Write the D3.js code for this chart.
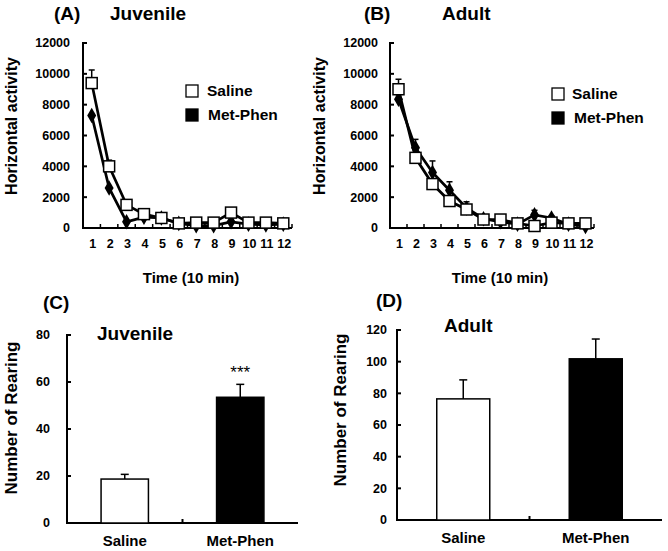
<!DOCTYPE html>
<html><head><meta charset="utf-8">
<script src="https://cdn.jsdelivr.net/npm/d3@7"></script>
<style>
html,body{margin:0;padding:0;background:#fff;}
text{font-family:Arial,"Liberation Sans",sans-serif;}
</style></head>
<body>
<svg id="c" width="668" height="551"></svg>
<script>
// ---------- data ----------
const timeBins = [1,2,3,4,5,6,7,8,9,10,11,12];
const yTicksLine = [0,2000,4000,6000,8000,10000,12000];
const seriesNames = ["Saline","Met-Phen"];

const juvSaline    = [9400,4000,1500,900,650,300,350,350,1000,350,350,300];
const juvSalineErr = [850,400,150,150,100,50,50,50,200,50,50,50];
const juvMet       = [7300,2600,400,700,650,300,150,150,400,250,200,250];
const juvMetErr    = [0,0,0,0,0,0,0,0,0,0,0,0];

const adSaline     = [9000,4550,2850,1750,1200,550,550,300,130,350,300,300];
const adSalineErr  = [650,300,300,200,200,100,100,50,50,100,50,50];
const adMet        = [8350,5200,3600,2450,1300,600,400,250,850,650,250,100];
const adMetErr     = [300,550,750,550,400,250,150,100,300,150,100,100];

const groups = ["Saline","Met-Phen"];
const juvRearing    = [18.7,53.5];
const juvRearingErr = [2.0,5.5];
const juvTicks      = [0,20,40,60,80];
const adRearing     = [76.5,101.8];
const adRearingErr  = [12.0,12.5];
const adTicks       = [0,20,40,60,80,100,120];

const svg = d3.select("#c");

function yAxisInside(g, y, ticks, x0, labelGap){
  g.append("line").attr("x1",x0).attr("x2",x0).attr("y1",y.range()[0]+1).attr("y2",y.range()[1]-1)
    .attr("stroke","#000").attr("stroke-width",2);
  ticks.forEach(t=>{
    g.append("line").attr("x1",x0).attr("x2",x0+4).attr("y1",y(t)).attr("y2",y(t))
      .attr("stroke","#000").attr("stroke-width",2);
    g.append("text").attr("x",x0-labelGap).attr("y",y(t)).attr("dy","0.35em")
      .attr("text-anchor","end").attr("font-size",12.5).attr("font-weight","bold").text(t);
  });
}

function linePanel(o){
  const g = svg.append("g");
  const x = d3.scaleBand().domain(timeBins).range([o.x0,o.x1]).padding(0);
  const y = d3.scaleLinear().domain([0,12000]).range([228,43]);
  const cx = d => x(d)+x.bandwidth()/2;
  yAxisInside(g,y,yTicksLine,o.x0,o.labelGap);
  g.append("line").attr("x1",o.x0-1).attr("x2",o.x1).attr("y1",y(0)).attr("y2",y(0))
    .attr("stroke","#000").attr("stroke-width",2);
  timeBins.forEach((d,i)=>{
    const bx = x(d)+x.bandwidth();
    g.append("line").attr("x1",bx).attr("x2",bx).attr("y1",y(0)).attr("y2",y(0)-4)
      .attr("stroke","#000").attr("stroke-width",1.5);
    g.append("text").attr("x",cx(d)+1).attr("y",248).attr("text-anchor","middle")
      .attr("font-size",12.5).attr("font-weight","bold").text(d);
  });
  const line = d3.line().x((v,i)=>cx(timeBins[i])).y(v=>y(v));
  const drawSeries = (vals, errs, filled) => {
    vals.forEach((v,i)=>{
      if(errs[i]>0){
        const xx=cx(timeBins[i]);
        g.append("line").attr("x1",xx).attr("x2",xx).attr("y1",y(v)).attr("y2",y(v+errs[i]))
          .attr("stroke","#000").attr("stroke-width",1.5);
        g.append("line").attr("x1",xx-3).attr("x2",xx+3).attr("y1",y(v+errs[i])).attr("y2",y(v+errs[i]))
          .attr("stroke","#000").attr("stroke-width",1.5);
      }
    });
    g.append("path").attr("d",line(vals)).attr("fill","none").attr("stroke","#000").attr("stroke-width",2.7);
    vals.forEach((v,i)=>{
      const xx=cx(timeBins[i]), yy=y(v);
      if(filled){
        g.append("path").attr("d",d3.symbol().type(d3.symbolDiamond).size(70)())
          .attr("transform",`translate(${xx},${yy})`).attr("fill","#000");
      } else {
        g.append("rect").attr("x",xx-5.5).attr("y",yy-5.5).attr("width",11).attr("height",11)
          .attr("fill","#fff").attr("stroke","#000").attr("stroke-width",1.5);
      }
    });
  };
  drawSeries(o.met,o.metErr,true);
  drawSeries(o.sal,o.salErr,false);
  g.append("text").attr("x",o.tagX).attr("y",20).attr("font-size",19).attr("font-weight","bold").text(o.tag);
  g.append("text").attr("x",o.titleX).attr("y",20).attr("font-size",19).attr("font-weight","bold").text(o.title);
  g.append("text").attr("transform",`translate(${o.ylabX},126) rotate(-90)`).attr("text-anchor","middle")
    .attr("font-size",16).attr("font-weight","bold").text("Horizontal activity");
  g.append("text").attr("x",o.timeX).attr("y",283).attr("text-anchor","middle")
    .attr("font-size",15).attr("font-weight","bold").text("Time (10 min)");
  seriesNames.forEach((n,i)=>{
    const ly = o.legY[i];
    g.append("rect").attr("x",o.legX).attr("y",ly).attr("width",12).attr("height",12)
      .attr("fill", i===0?"#fff":"#000").attr("stroke","#000").attr("stroke-width",1.3);
    g.append("text").attr("x",o.legTX[i]).attr("y",ly+11).attr("font-size",15.5).attr("font-weight","bold").text(n);
  });
}

linePanel({x0:83,x1:292,labelGap:13,met:juvMet,metErr:juvMetErr,sal:juvSaline,salErr:juvSalineErr,
  tag:"(A)",tagX:54,title:"Juvenile",titleX:110,ylabX:17,timeX:191,legX:186,legY:[85,109],legTX:[207,208]});
linePanel({x0:390,x1:594,labelGap:12,met:adMet,metErr:adMetErr,sal:adSaline,salErr:adSalineErr,
  tag:"(B)",tagX:364,title:"Adult",titleX:442,ylabX:325,timeX:500,legX:552,legY:[88,112],legTX:[572,574]});

function barPanel(o){
  const g = svg.append("g");
  const x = d3.scaleBand().domain(groups).range([o.x0,o.x1]).padding(0);
  const y = d3.scaleLinear().domain([0,o.max]).range([o.yb,o.yt]);
  yAxisInside(g,y,o.ticks,o.x0,o.labelGap);
  g.append("line").attr("x1",o.x0-1).attr("x2",o.x1).attr("y1",y(0)).attr("y2",y(0))
    .attr("stroke","#000").attr("stroke-width",2);
  const mid = x(groups[1]);
  g.append("line").attr("x1",mid).attr("x2",mid).attr("y1",y(0)).attr("y2",y(0)-4)
    .attr("stroke","#000").attr("stroke-width",2);
  const bw = x.bandwidth()*o.frac;
  o.vals.forEach((v,i)=>{
    const c = x(groups[i])+x.bandwidth()/2;
    g.append("line").attr("x1",c).attr("x2",c).attr("y1",y(v)).attr("y2",y(v+o.errs[i]))
      .attr("stroke","#000").attr("stroke-width",1.5);
    g.append("line").attr("x1",c-4).attr("x2",c+4).attr("y1",y(v+o.errs[i])).attr("y2",y(v+o.errs[i]))
      .attr("stroke","#000").attr("stroke-width",1.5);
    g.append("rect").attr("x",c-bw/2).attr("y",y(v)).attr("width",bw).attr("height",y(0)-y(v))
      .attr("fill",i===0?"#fff":"#000").attr("stroke","#000").attr("stroke-width",1.5);
    g.append("text").attr("x",c).attr("y",o.catY).attr("text-anchor","middle")
      .attr("font-size",15).attr("font-weight","bold").text(groups[i]);
  });
  if(o.star){
    const c = x(groups[1])+x.bandwidth()/2;
    g.append("text").attr("x",c).attr("y",o.starY).attr("text-anchor","middle").attr("font-size",17).attr("fill","#000").text("***");
  }
  g.append("text").attr("x",o.tagX).attr("y",o.tagY).attr("font-size",19).attr("font-weight","bold").text(o.tag);
  g.append("text").attr("x",o.titleX).attr("y",o.titleY).attr("font-size",19).attr("font-weight","bold").text(o.title);
  g.append("text").attr("transform",`translate(${o.ylabX},${o.ylabY}) rotate(-90)`).attr("text-anchor","middle")
    .attr("font-size",17).attr("font-weight","bold").text("Number of Rearing");
}

barPanel({x0:67,x1:298,yb:523,yt:335,max:80,ticks:juvTicks,labelGap:17,vals:juvRearing,errs:juvRearingErr,frac:0.41,
  catY:546,star:true,starY:378,tag:"(C)",tagX:43,tagY:309,title:"Juvenile",titleX:97,titleY:340,ylabX:17,ylabY:418});
barPanel({x0:397,x1:662,yb:520,yt:330,max:120,ticks:adTicks,labelGap:10,vals:adRearing,errs:adRearingErr,frac:0.4,
  catY:543,star:false,tag:"(D)",tagX:376,tagY:307,title:"Adult",titleX:444,titleY:332,ylabX:346,ylabY:410});
</script>
</body></html>
